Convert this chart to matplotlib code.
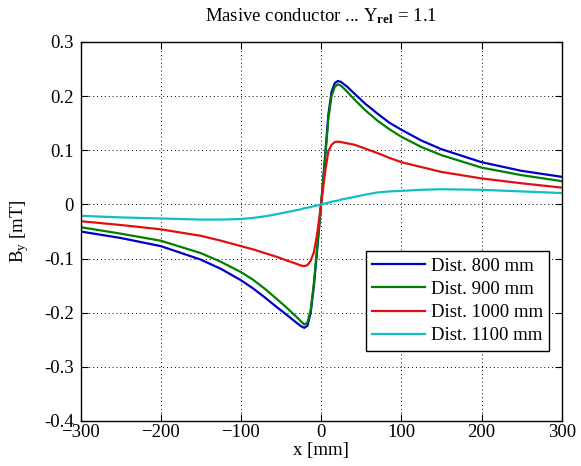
import numpy as np
import matplotlib.pyplot as plt

plt.rcParams['font.family'] = ['Liberation Serif', 'DejaVu Serif']
plt.rcParams['mathtext.fontset'] = 'custom'
plt.rcParams['mathtext.rm'] = 'Liberation Serif'
plt.rcParams['mathtext.it'] = 'Liberation Serif'
plt.rcParams['mathtext.bf'] = 'Liberation Serif:bold'

# positions along x [mm]
x = [-300, -250, -200, -150, -125, -100, -85, -70, -55, -42, -32, -25, -21, -17, -13, -9, -5, 0,
     5, 9, 13, 17, 21, 25, 32, 42, 55, 70, 85, 100, 125, 150, 200, 250, 300]

# By [mT] for each distance
by_800 = [-0.050, -0.062, -0.077, -0.102, -0.119, -0.140, -0.155, -0.172, -0.190, -0.205, -0.217, -0.225, -0.228, -0.224, -0.200, -0.150, -0.085, 0.000,
          0.090, 0.165, 0.208, 0.224, 0.228, 0.226, 0.218, 0.204, 0.186, 0.168, 0.151, 0.138, 0.118, 0.102, 0.078, 0.062, 0.051]
by_900 = [-0.042, -0.054, -0.067, -0.090, -0.106, -0.125, -0.139, -0.156, -0.175, -0.192, -0.206, -0.216, -0.222, -0.218, -0.195, -0.145, -0.080, 0.000,
          0.085, 0.158, 0.200, 0.217, 0.222, 0.219, 0.209, 0.193, 0.174, 0.155, 0.139, 0.125, 0.106, 0.091, 0.068, 0.054, 0.043]
by_1000 = [-0.031, -0.038, -0.046, -0.058, -0.067, -0.077, -0.083, -0.090, -0.097, -0.104, -0.109, -0.113, -0.114, -0.112, -0.104, -0.088, -0.055, 0.000,
           0.060, 0.098, 0.110, 0.115, 0.116, 0.115, 0.113, 0.110, 0.103, 0.095, 0.086, 0.078, 0.069, 0.060, 0.048, 0.039, 0.031]
by_1100 = [-0.021, -0.024, -0.026, -0.028, -0.028, -0.027, -0.025, -0.022, -0.018, -0.014, -0.011, -0.009, -0.007, -0.006, -0.005, -0.003, -0.002, 0.000,
           0.002, 0.003, 0.005, 0.006, 0.007, 0.009, 0.011, 0.014, 0.018, 0.022, 0.024, 0.025, 0.027, 0.028, 0.027, 0.024, 0.021]

labels = ["Dist. 800 mm", "Dist. 900 mm", "Dist. 1000 mm", "Dist. 1100 mm"]
colors = ["#0000c8", "#008000", "#e01010", "#10bfbf"]

fig = plt.figure(figsize=(5.81, 4.66), dpi=100)
ax = fig.add_axes([0.1386, 0.0966, 0.8282, 0.8133])

for yy, lab, c in zip([by_800, by_900, by_1000, by_1100], labels, colors):
    ax.plot(x, yy, color=c, lw=1.6, label=lab)

fs = 13.5
ax.set_xlim(-300, 300)
ax.set_ylim(-0.4, 0.3)
ax.set_xticks(np.arange(-300, 301, 100))
ax.set_yticks(np.arange(-0.4, 0.31, 0.1))
ax.set_yticklabels(["-0.4", "-0.3", "-0.2", "-0.1", "0", "0.1", "0.2", "0.3"])
ax.grid(True, linestyle=(0, (1, 3)), color='k', lw=0.7)
ax.tick_params(direction='in', top=True, right=True, length=5, labelsize=fs)
ax.tick_params(axis='y', pad=5)
ax.tick_params(axis='x', pad=2)
for s in ax.spines.values():
    s.set_linewidth(1.0)

ax.set_xlabel("x [mm]", fontsize=fs, labelpad=1)
ax.set_ylabel("B$_\\mathrm{y}$ [mT]", fontsize=fs, labelpad=9)
ax.set_title("Masive conductor ... Y$_{\\mathbf{rel}}$ = 1.1", fontsize=fs, pad=15)

leg = ax.legend(loc='lower right', bbox_to_anchor=(0.974, 0.185), borderaxespad=0,
                fancybox=False, edgecolor='k', framealpha=1, fontsize=fs,
                handlelength=2.8, handletextpad=0.3, labelspacing=0.32, borderpad=0.35)
leg.get_frame().set_linewidth(1.0)

fig.savefig("out.png", dpi=100, facecolor='white')
